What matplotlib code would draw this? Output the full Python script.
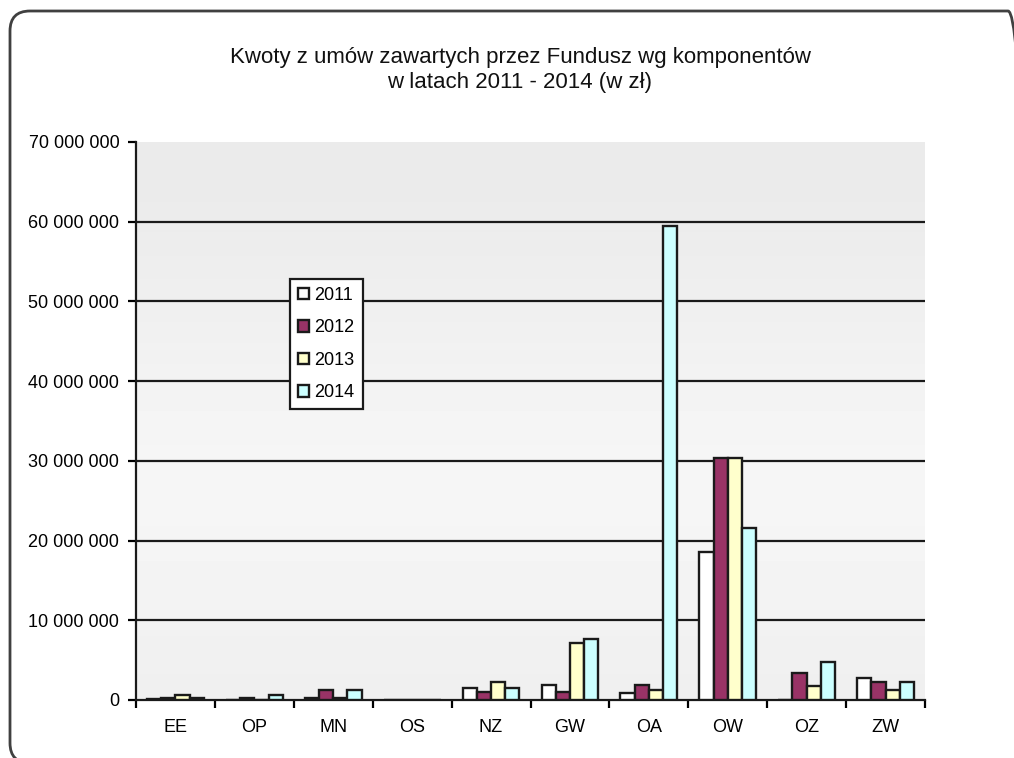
import matplotlib
matplotlib.use("Agg")
import matplotlib.pyplot as plt
from matplotlib.patches import FancyBboxPatch
from matplotlib.ticker import FuncFormatter
import numpy as np

plt.rcParams['font.family'] = ['Liberation Sans', 'DejaVu Sans']

categories = ['EE', 'OP', 'MN', 'OS', 'NZ', 'GW', 'OA', 'OW', 'OZ', 'ZW']
years = ['2011', '2012', '2013', '2014']
# values in PLN
v2011 = [0.15e6, 0.0, 0.2e6, 0.0, 1.45e6, 1.9e6, 0.9e6, 18.6e6, 0.0, 2.7e6]
v2012 = [0.2e6, 0.2e6, 1.25e6, 0.0, 0.95e6, 0.95e6, 1.9e6, 30.3e6, 3.4e6, 2.2e6]
v2013 = [0.6e6, 0.0, 0.2e6, 0.0, 2.2e6, 7.2e6, 1.25e6, 30.3e6, 1.7e6, 1.2e6]
v2014 = [0.2e6, 0.6e6, 1.25e6, 0.0, 1.45e6, 7.7e6, 59.4e6, 21.6e6, 4.8e6, 2.2e6]
series = [v2011, v2012, v2013, v2014]
colors = ['#ffffff', '#993366', '#ffffcc', '#ccffff']

fig = plt.figure(figsize=(10.14, 7.58), dpi=100)
ax = fig.add_axes([136/1014, 1-700/758, (925-136)/1014, (700-142)/758])

# outer rounded frame (right edge just outside the image)
frame = FancyBboxPatch((0.10, -0.05), 10.18, 7.52, boxstyle="round,pad=0,rounding_size=0.2",
                       transform=fig.dpi_scale_trans, facecolor='none', edgecolor='#404040', lw=2)
fig.patches.append(frame)

# gradient plot background
grad = np.array([[0.918], [0.93], [0.945], [0.96], [0.965], [0.955], [0.94]])
ax.imshow(np.repeat(grad, 3, axis=1), cmap='gray', vmin=0, vmax=1, aspect='auto',
          extent=[0, 1, 0, 1], transform=ax.transAxes, interpolation='bicubic', zorder=0)

x = np.arange(len(categories))
w = 0.18
for i, (vals, c, yr) in enumerate(zip(series, colors, years)):
    ax.bar(x + (i - 1.5) * w, vals, w, color=c, edgecolor='#1a1a1a', linewidth=1.7,
           label=yr, zorder=3)

ax.set_xlim(-0.5, len(categories) - 0.5)
ax.set_ylim(0, 70e6)
ax.set_yticks(np.arange(0, 70e6 + 1, 10e6))
ax.yaxis.set_major_formatter(FuncFormatter(lambda v, p: f"{int(v):,}".replace(",", " ")))
ax.set_xticks(np.arange(-0.5, len(categories), 1))
ax.set_xticklabels([])
ax.set_xticks(x, minor=True)
ax.set_xticklabels(categories, minor=True)
ax.tick_params(axis='x', which='minor', length=0, pad=14, labelsize=13)
ax.tick_params(axis='x', which='major', length=6, width=1.6, direction='out')
ax.tick_params(axis='y', length=6, width=1.6, direction='out', labelsize=13, pad=6)

for y in np.arange(10e6, 70e6, 10e6):
    ax.axhline(y, color='#1a1a1a', lw=1.6, zorder=1)

for s in ['top', 'right']:
    ax.spines[s].set_visible(False)
for s in ['left', 'bottom']:
    ax.spines[s].set_linewidth(1.6)
    ax.spines[s].set_color('#1a1a1a')

leg = ax.legend(loc='upper left', bbox_to_anchor=((290-136)/789, (700-279)/558),
                fontsize=13, frameon=True, fancybox=False, edgecolor='#1a1a1a',
                handlelength=0.6, handleheight=0.6, handletextpad=0.3,
                labelspacing=0.85, borderpad=0.45, borderaxespad=0)
leg.get_frame().set_linewidth(1.6)
leg.get_frame().set_facecolor('white')
leg.get_frame().set_alpha(1)

fig.text(520/1014, 1-70/758, "Kwoty z umów zawartych przez Fundusz wg komponentów\nw latach 2011 - 2014 (w zł)",
         ha='center', va='center', fontsize=16, linespacing=1.25, color='#111111')

fig.savefig('out.png', dpi=100)
